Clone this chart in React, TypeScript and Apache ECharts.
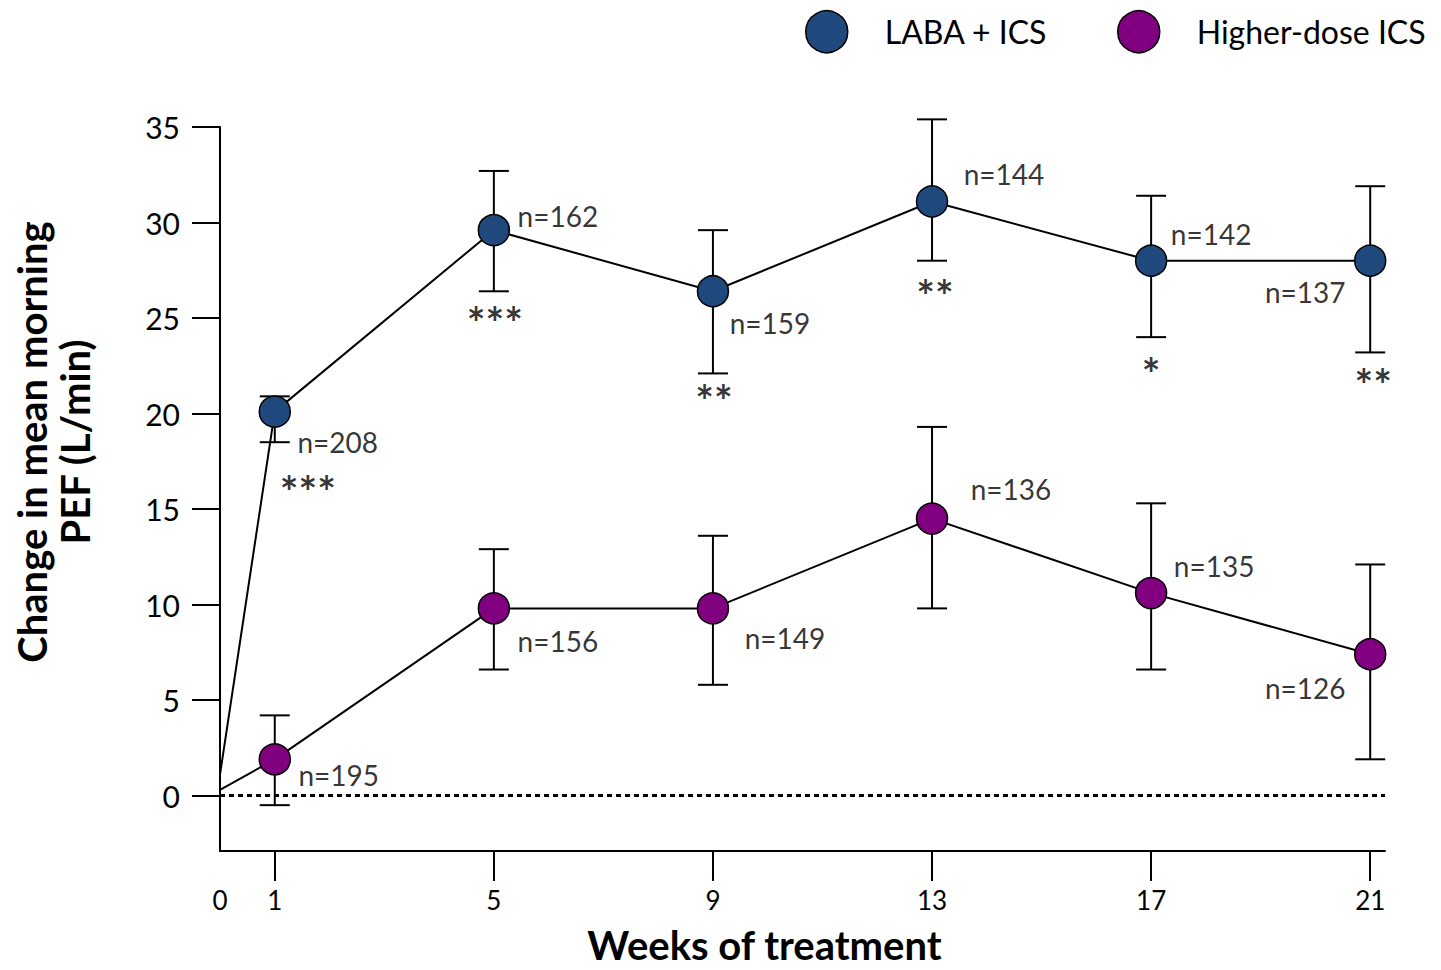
import React, { useEffect, useRef } from "react";
import * as echarts from "echarts";

const weeks = [0, 1, 5, 9, 13, 17, 21];
const labaMean = [1.1, 20.1, 29.6, 26.4, 31.1, 28.0, 28.0];
const labaLower = [null, 18.5, 26.4, 22.1, 28.0, 24.0, 23.2];
const labaUpper = [null, 20.9, 32.7, 29.6, 35.4, 31.4, 31.9];
const hdMean = [0.3, 1.9, 9.8, 9.8, 14.5, 10.6, 7.4];
const hdLower = [null, -0.5, 6.6, 5.8, 9.8, 6.6, 1.9];
const hdUpper = [null, 4.2, 12.9, 13.6, 19.3, 15.3, 12.1];
const labaN = ["", "n=208", "n=162", "n=159", "n=144", "n=142", "n=137"];
const hdN = ["", "n=195", "n=156", "n=149", "n=136", "n=135", "n=126"];
const labaStars = ["", "***", "***", "**", "**", "*", "**"];
const yTicks = [0, 5, 10, 15, 20, 25, 30, 35];
const xTickValues = [1, 5, 9, 13, 17, 21];
const xLabelValues = [0, 1, 5, 9, 13, 17, 21];

// label layout (pixel offsets from each marker)
const labaNOffset = [null, [63, 30], [64, -14], [57, 32], [72, -28], [60, -27], [-65, 31]];
const labaStarOffset = [null, [33, 79], [1, 92], [1, 109], [3, 93], [0, 112], [3, 123]];
const hdNOffset = [null, [64, 16], [64, 33], [72, 30], [79, -30], [63, -27], [-65, 34]];

const BLUE = "#1F497D";
const PURPLE = "#800080";
const FONT = "Lato";

function meanData(means: number[]) {
  return weeks.map((w, i) =>
    i === 0 ? { value: [w, means[i]], symbol: "none" } : { value: [w, means[i]] }
  );
}

function errData(lower: (number | null)[], upper: (number | null)[]) {
  const out: number[][] = [];
  weeks.forEach((w, i) => {
    if (lower[i] != null && upper[i] != null) out.push([w, lower[i] as number, upper[i] as number]);
  });
  return out;
}

function annData(texts: string[], means: number[], offsets: any[], bold: boolean, size: number) {
  const out: any[] = [];
  weeks.forEach((w, i) => {
    if (!texts[i]) return;
    out.push({
      value: [w, means[i]],
      label: {
        show: true,
        position: "inside",
        formatter: texts[i],
        offset: offsets[i],
        fontFamily: FONT,
        fontSize: size,
        fontWeight: bold ? "bold" : "normal",
        color: "#000",
        align: "center",
        verticalAlign: "middle",
      },
    });
  });
  return out;
}

const errRender = (params: any, api: any) => {
  const x = api.value(0);
  const lo = api.coord([x, api.value(1)]);
  const hi = api.coord([x, api.value(2)]);
  const hw = 15;
  const st = { stroke: "#000", lineWidth: 2 };
  return {
    type: "group",
    children: [
      { type: "line", shape: { x1: hi[0], y1: hi[1], x2: lo[0], y2: lo[1] }, style: st },
      { type: "line", shape: { x1: hi[0] - hw, y1: hi[1], x2: hi[0] + hw, y2: hi[1] }, style: st },
      { type: "line", shape: { x1: lo[0] - hw, y1: lo[1], x2: lo[0] + hw, y2: lo[1] }, style: st },
    ],
  };
};

function legendFor(name: string, left: number) {
  return {
    data: [name],
    left,
    top: 10,
    padding: 0,
    icon: "circle",
    itemWidth: 42,
    itemHeight: 42,
    itemStyle: { borderColor: "#000", borderWidth: 1.5 },
    textStyle: { fontFamily: FONT, fontSize: 32, color: "#000", padding: [0, 0, 0, 32] },
    selectedMode: false,
  };
}

export default function App() {
  const ref = useRef<HTMLDivElement>(null);
  useEffect(() => {
    const chart = echarts.init(ref.current!, null, { renderer: "svg" });
    const axisLineStyle = { color: "#000", width: 2 };
    chart.setOption({
      animation: false,
      backgroundColor: "#fff",
      textStyle: { fontFamily: FONT },
      grid: {
        left: 220,
        right: 56,
        top: 127,
        bottom: 119,
        containLabel: false,
        outerBoundsMode: "none",
      },
      legend: [legendFor("LABA + ICS", 805), legendFor("Higher-dose ICS", 1117)],
      xAxis: {
        type: "value",
        min: 0,
        max: 21.27,
        name: "Weeks of treatment",
        nameLocation: "middle",
        nameGap: 77,
        nameTextStyle: {
          fontFamily: FONT,
          fontSize: 40,
          fontWeight: "bold",
          color: "#000",
          lineHeight: 34,
          padding: [0, 76, 0, 0],
        },
        axisLine: { show: true, onZero: false, lineStyle: axisLineStyle },
        axisTick: { show: true, length: 30, lineStyle: axisLineStyle, customValues: xTickValues },
        axisLabel: {
          customValues: xLabelValues,
          fontFamily: FONT,
          fontSize: 26,
          color: "#000",
          margin: 36,
        },
        splitLine: { show: false },
      },
      yAxis: {
        type: "value",
        min: -2.9,
        max: 35,
        name: "Change in mean morning\nPEF (L/min)",
        nameLocation: "middle",
        nameRotate: 90,
        nameGap: 124,
        nameTextStyle: {
          fontFamily: FONT,
          fontSize: 40,
          fontWeight: "bold",
          color: "#000",
          lineHeight: 43,
          padding: [0, 0, 0, 94],
        },
        axisLine: { show: true, onZero: false, lineStyle: axisLineStyle },
        axisTick: { show: true, length: 28, lineStyle: axisLineStyle, customValues: yTicks },
        axisLabel: {
          customValues: yTicks,
          fontFamily: FONT,
          fontSize: 30,
          color: "#000",
          margin: 40,
        },
        splitLine: { show: false },
      },
      series: [
        {
          name: "LABA + ICS err",
          type: "custom",
          renderItem: errRender,
          data: errData(labaLower, labaUpper),
          encode: { x: 0, y: [1, 2] },
          z: 1,
          silent: true,
        },
        {
          name: "Higher-dose ICS err",
          type: "custom",
          renderItem: errRender,
          data: errData(hdLower, hdUpper),
          encode: { x: 0, y: [1, 2] },
          z: 1,
          silent: true,
        },
        {
          name: "LABA + ICS",
          type: "line",
          data: meanData(labaMean),
          symbol: "circle",
          symbolSize: 31,
          color: BLUE,
          itemStyle: { color: BLUE, borderColor: "#000", borderWidth: 1.5 },
          lineStyle: { color: "#000", width: 2 },
          z: 3,
          markLine: {
            silent: true,
            symbol: ["none", "none"],
            label: { show: false },
            lineStyle: { color: "#000", type: [5, 4], width: 3 },
            data: [{ yAxis: 0 }],
            z: 0,
          },
        },
        {
          name: "Higher-dose ICS",
          type: "line",
          data: meanData(hdMean),
          symbol: "circle",
          symbolSize: 31,
          color: PURPLE,
          itemStyle: { color: PURPLE, borderColor: "#000", borderWidth: 1.5 },
          lineStyle: { color: "#000", width: 2 },
          z: 3,
        },
        {
          name: "labaN",
          type: "scatter",
          symbolSize: 1,
          itemStyle: { color: "rgba(0,0,0,0)" },
          silent: true,
          z: 4,
          data: annData(labaN, labaMean, labaNOffset, false, 28),
        },
        {
          name: "labaStars",
          type: "scatter",
          symbolSize: 1,
          itemStyle: { color: "rgba(0,0,0,0)" },
          silent: true,
          z: 4,
          data: annData(labaStars, labaMean, labaStarOffset, true, 44),
        },
        {
          name: "hdN",
          type: "scatter",
          symbolSize: 1,
          itemStyle: { color: "rgba(0,0,0,0)" },
          silent: true,
          z: 4,
          data: annData(hdN, hdMean, hdNOffset, false, 28),
        },
      ],
    });
    return () => chart.dispose();
  }, []);
  return (
    <div
      ref={ref}
      style={{ position: "fixed", left: 0, top: 0, width: 1441, height: 970, background: "#fff" }}
    />
  );
}
